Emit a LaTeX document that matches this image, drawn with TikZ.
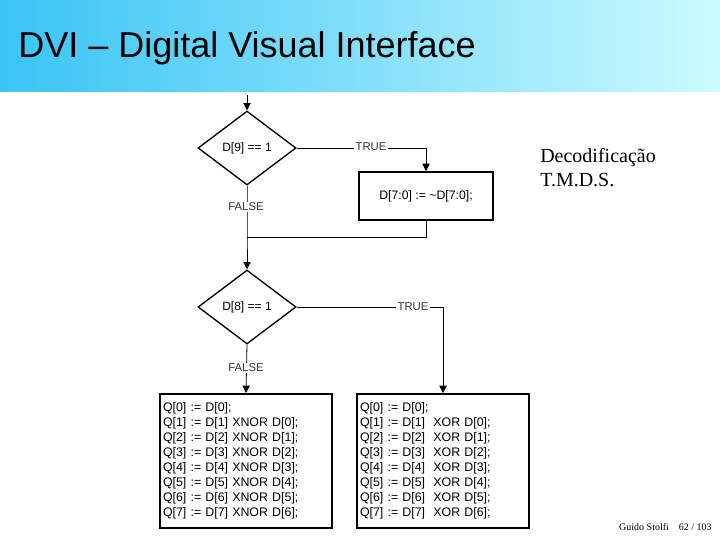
\documentclass[tikz,border=0pt]{standalone}
\usepackage{fontspec}
\setmainfont{Liberation Serif}
\setsansfont{Liberation Sans}
\usetikzlibrary{shapes.geometric,arrows.meta}
\definecolor{bandL}{RGB}{58,196,246}
\definecolor{bandR}{RGB}{204,250,255}
\tikzset{
  px/.style={x=0.75pt,y=-0.75pt},
  flow/.style={draw=black,line width=0.6pt},
  arr/.style={flow,-{Triangle[length=5.5pt,width=5.5pt]}},
  decision/.style={diamond,draw=black,line width=1pt,minimum width=73.5pt,minimum height=55.5pt,inner sep=0pt,aspect=1.32,font=\sffamily\fontsize{9}{10}\selectfont},
  stepbox/.style={rectangle,draw=black,line width=1.5pt,inner sep=0pt,font=\sffamily\fontsize{9.2}{11}\selectfont},
  codebox/.style={rectangle,draw=black,line width=1.5pt,minimum width=129pt,minimum height=100.5pt,text width=124.5pt,inner xsep=2.25pt,inner ysep=0pt,align=left,font=\sffamily\fontsize{9.3}{11.2}\selectfont},
  lbl/.style={fill=white,inner sep=1pt,font=\sffamily\fontsize{8.5}{9}\selectfont,text=black!80}
}
\begin{document}
\begin{tikzpicture}[px]
\useasboundingbox (0,0) rectangle (720,540);
\fill[white] (0,0) rectangle (720,540);
\shade[left color=bandL,right color=bandR] (0,0) rectangle (720,91);
\node[anchor=base west,inner sep=0pt,font=\sffamily\fontsize{27}{30}\selectfont] (title) at (18,57) {DVI -- Digital Visual Interface};

\coordinate (in) at (247,95);
\node[decision] (d9) at (247,148) {D[9] == 1};
\node[stepbox,minimum width=100.5pt,minimum height=36pt] (b1) at (426,196) {D[7:0] := \char`~D[7:0];};
\coordinate (c1) at (426,148);
\coordinate (c2) at (426,237);
\coordinate (j1) at (247,237);
\node[decision] (d8) at (247,307) {D[8] == 1};
\coordinate (c3) at (443,307);
\node[codebox] (bx) at (246,461) {Q[0] := D[0];\\Q[1] := D[1] XNOR D[0];\\Q[2] := D[2] XNOR D[1];\\Q[3] := D[3] XNOR D[2];\\Q[4] := D[4] XNOR D[3];\\Q[5] := D[5] XNOR D[4];\\Q[6] := D[6] XNOR D[5];\\Q[7] := D[7] XNOR D[6];};
\node[codebox] (bo) at (443,461) {Q[0] := D[0];\\Q[1] := D[1]\ \ XOR D[0];\\Q[2] := D[2]\ \ XOR D[1];\\Q[3] := D[3]\ \ XOR D[2];\\Q[4] := D[4]\ \ XOR D[3];\\Q[5] := D[5]\ \ XOR D[4];\\Q[6] := D[6]\ \ XOR D[5];\\Q[7] := D[7]\ \ XOR D[6];};

\draw[arr] (in) -- (d9.north);
\draw[arr] (d9.east) -- (c1) -- (b1.north);
\draw[flow] (b1.south) -- (c2) -- (j1);
\draw[arr] (d9.south) -- (j1) -- (d8.north);
\draw[arr] (d8.east) -- (c3) -- (bo.north);
\draw[arr] (d8.south) -- (bx.north);

\node[lbl] (t1) at (371,147) {TRUE};
\node[lbl] (f1) at (246,207) {FALSE};
\node[lbl] (t2) at (413,307) {TRUE};
\node[lbl] (f2) at (246,368) {FALSE};

\node[anchor=base west,align=left,inner sep=0pt,font=\fontsize{15}{18}\selectfont] (note) at (540,186) {Decodificação\\T.M.D.S.};
\node[anchor=base east,inner sep=0pt,font=\fontsize{7.5}{9}\selectfont] (foot) at (712,530) {Guido Stolfi\quad 62 / 103};
\end{tikzpicture}
\end{document}
